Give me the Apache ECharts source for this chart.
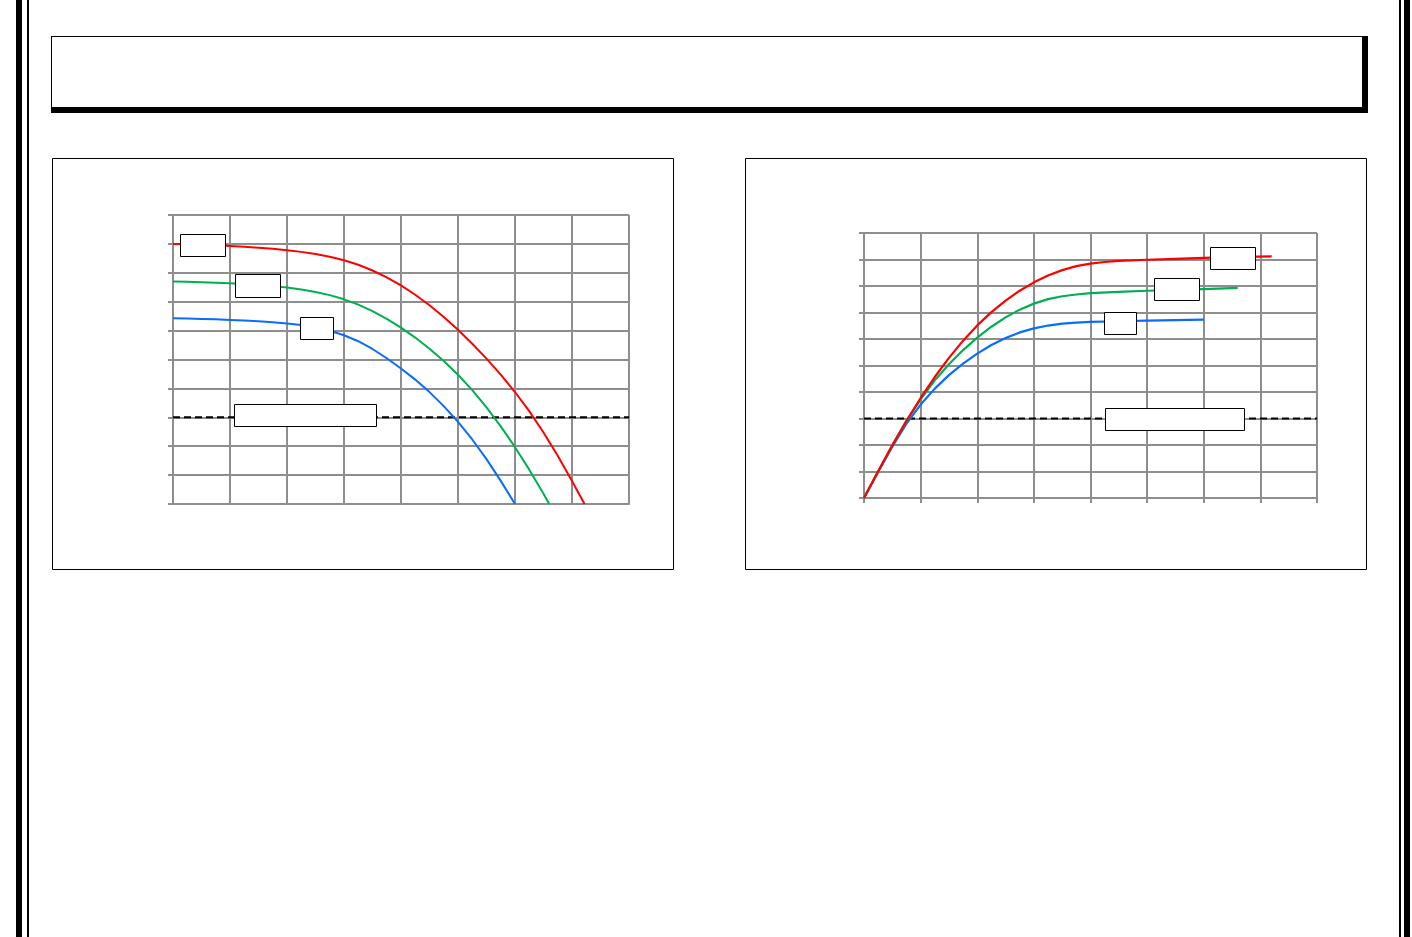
<!DOCTYPE html>
<html>
<head>
<meta charset="utf-8">
<style>
html,body{margin:0;padding:0;background:#fff;}
#chart{width:1412px;height:937px;}
</style>
<script src="https://cdn.jsdelivr.net/npm/echarts@6/dist/echarts.min.js"></script>
</head>
<body>
<div id="chart"></div>
<script>
// ---- Data (left chart: falling curves) ----
var leftRedX   = [0,0.25,0.5,0.75,1,1.25,1.5,1.75,2,2.25,2.5,2.75,3,3.25,3.5,3.75,4,4.25,4.5,4.75,5,5.25,5.5,5.75,6,6.25,6.5,6.75,7,7.22];
var leftRedY   = [9.0,8.986,8.97,8.95,8.927,8.9,8.867,8.828,8.782,8.724,8.652,8.557,8.435,8.277,8.08,7.842,7.562,7.24,6.875,6.47,6.027,5.547,5.032,4.477,3.875,3.212,2.475,1.667,0.797,0];
var leftGreenX = [0,0.25,0.5,0.75,1,1.25,1.5,1.75,2,2.25,2.5,2.75,3,3.25,3.5,3.75,4,4.25,4.5,4.75,5,5.25,5.5,5.75,6,6.25,6.5,6.6];
var leftGreenY = [7.7,7.689,7.675,7.658,7.637,7.611,7.579,7.539,7.489,7.424,7.339,7.227,7.082,6.899,6.674,6.409,6.104,5.759,5.374,4.947,4.472,3.939,3.344,2.686,1.966,1.189,0.354,0];
var leftBlueX  = [0,0.25,0.5,0.75,1,1.25,1.5,1.75,2,2.25,2.5,2.75,3,3.25,3.5,3.75,4,4.25,4.5,4.75,5,5.25,5.5,5.75,6];
var leftBlueY  = [6.43,6.419,6.405,6.389,6.37,6.348,6.322,6.29,6.249,6.192,6.109,5.994,5.839,5.632,5.364,5.042,4.689,4.304,3.872,3.387,2.842,2.232,1.554,0.8,0];
var leftRefX   = [0,8];
var leftRefY   = [3,3];
var leftBoxes  = [[0.51,8.95],[1.49,7.55],[2.51,6.08],[2.32,3.07]];

// ---- Data (right chart: rising curves) ----
var rightRedX   = [0,0.25,0.5,0.75,1,1.25,1.5,1.75,2,2.25,2.5,2.75,3,3.25,3.5,3.75,4,4.25,4.5,5,5.5,6,6.5,7.2];
var rightRedY   = [0,1.01,1.988,2.915,3.775,4.565,5.288,5.938,6.513,7.015,7.45,7.823,8.138,8.398,8.6,8.75,8.845,8.905,8.945,8.99,9.02,9.06,9.09,9.12];
var rightGreenX = [0,0.25,0.5,0.75,1,1.25,1.5,1.75,2,2.25,2.5,2.75,3,3.25,3.5,3.75,4,4.5,5,5.5,6,6.6];
var rightGreenY = [0,1.003,1.988,2.91,3.725,4.438,5.05,5.583,6.053,6.463,6.815,7.108,7.335,7.503,7.613,7.68,7.73,7.78,7.82,7.85,7.88,7.93];
var rightBlueX  = [0,0.25,0.5,0.75,1,1.25,1.5,1.75,2,2.25,2.5,2.75,3,3.25,3.5,3.75,4,4.5,5,5.5,6];
var rightBlueY  = [0,0.985,1.938,2.803,3.525,4.128,4.638,5.073,5.45,5.773,6.038,6.248,6.4,6.508,6.578,6.62,6.645,6.67,6.69,6.71,6.73];
var rightRefX   = [0,8];
var rightRefY   = [3,3];
var rightBoxes  = [[6.51,9.07],[5.52,7.87],[4.52,6.62],[5.48,3.0]];

// ---- Build ----
function pairs(xs, ys){ return xs.map(function(x,i){ return [x, ys[i]]; }); }

var GRID_C = '#8e8e8e';
var RED = '#ff0000', GREEN = '#00b050', BLUE = '#0a6cff';
var leftBoxSizes  = [[45,22],[45,23],[33,22],[142,22]];
var rightBoxSizes = [[45,22],[45,22],[32,22],[139,22]];

function xAx(idx, ticks){
  return {type:'value', gridIndex:idx, min:0, max:8, interval:1,
    axisLine:{show:true, onZero:false, lineStyle:{color:GRID_C, width:2}},
    axisTick:{show:ticks, length:5, lineStyle:{color:GRID_C, width:2}},
    axisLabel:{show:false},
    splitLine:{show:true, lineStyle:{color:GRID_C, width:2}}};
}
function yAx(idx){
  return {type:'value', gridIndex:idx, min:0, max:10, interval:1,
    axisLine:{show:true, onZero:false, lineStyle:{color:GRID_C, width:2}},
    axisTick:{show:true, length:5, lineStyle:{color:GRID_C, width:2}},
    axisLabel:{show:false},
    splitLine:{show:true, lineStyle:{color:GRID_C, width:2}}};
}
function line(idx, data, color, width){
  return {type:'line', xAxisIndex:idx, yAxisIndex:idx, data:data, showSymbol:false,
    symbol:'none', smooth:false, clip:true,
    lineStyle:{color:color, width:width, join:'round', cap:'butt'}, itemStyle:{color:color}, z:3, silent:true};
}
function refLine(idx, data){
  return {type:'line', xAxisIndex:idx, yAxisIndex:idx, data:data, symbol:'none',
    lineStyle:{color:'#000', width:2, type:[7,4]}, z:2, silent:true};
}
function boxSeries(idx, list, sizes){
  return {type:'custom', xAxisIndex:idx, yAxisIndex:idx, z:10, silent:true, clip:false,
    data:list,
    renderItem:function(params, api){
      var p = api.coord([api.value(0), api.value(1)]);
      var s = sizes[params.dataIndex];
      var x = Math.round(p[0] - s[0]/2) + 0.5, y = Math.round(p[1] - s[1]/2) + 0.5;
      return {type:'rect', shape:{x:x, y:y, width:s[0], height:s[1]},
        style:{fill:'#fff', stroke:'#000', lineWidth:1}};
    }};
}

var chart = echarts.init(document.getElementById('chart'), null, {renderer:'canvas'});
chart.setOption({
  animation:false,
  backgroundColor:'#fff',
  grid:[
    {left:173, top:215, width:456, height:289},
    {left:864, top:233, width:453, height:265}
  ],
  xAxis:[xAx(0,false), xAx(1,true)],
  yAxis:[yAx(0), yAx(1)],
  series:[
    refLine(0, pairs(leftRefX,leftRefY)),
    line(0, pairs(leftBlueX,leftBlueY), BLUE, 2),
    line(0, pairs(leftGreenX,leftGreenY), GREEN, 2),
    line(0, pairs(leftRedX,leftRedY), RED, 2),
    boxSeries(0, leftBoxes, leftBoxSizes),
    refLine(1, pairs(rightRefX,rightRefY)),
    line(1, pairs(rightBlueX,rightBlueY), BLUE, 2.2),
    line(1, pairs(rightGreenX,rightGreenY), GREEN, 2.2),
    line(1, pairs(rightRedX,rightRedY), RED, 2.2),
    boxSeries(1, rightBoxes, rightBoxSizes)
  ],
  graphic:[
    {type:'rect', shape:{x:16, y:0, width:6, height:937}, style:{fill:'#000'}, silent:true},
    {type:'rect', shape:{x:27, y:0, width:2, height:937}, style:{fill:'#000'}, silent:true},
    {type:'rect', shape:{x:1399, y:0, width:2, height:937}, style:{fill:'#000'}, silent:true},
    {type:'rect', shape:{x:1404, y:0, width:6, height:937}, style:{fill:'#000'}, silent:true},
    {type:'rect', shape:{x:51, y:36, width:1317, height:77}, style:{fill:'#000'}, silent:true},
    {type:'rect', shape:{x:52, y:37, width:1310, height:70}, style:{fill:'#fff'}, silent:true},
    {type:'rect', shape:{x:52.5, y:158.5, width:621, height:411}, style:{fill:null, stroke:'#000', lineWidth:1}, silent:true, z:-1},
    {type:'rect', shape:{x:745.5, y:158.5, width:621, height:411}, style:{fill:null, stroke:'#000', lineWidth:1}, silent:true, z:-1}
  ]
});
</script>
</body>
</html>
